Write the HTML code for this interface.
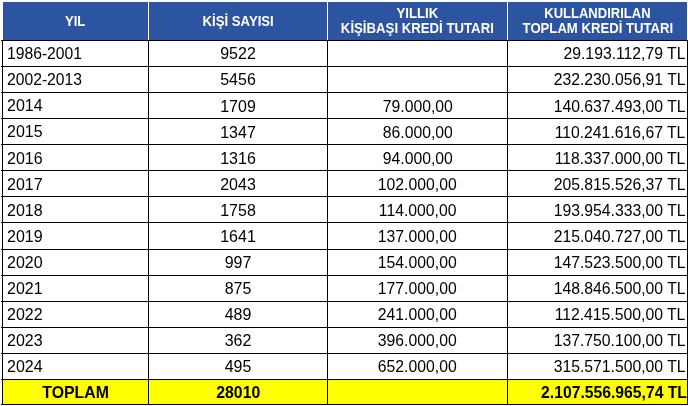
<!DOCTYPE html>
<html><head><meta charset="utf-8">
<style>
html,body{margin:0;padding:0;background:#fff;}
body{width:688px;height:406px;overflow:hidden;position:relative;font-family:"Liberation Sans",sans-serif;}
table{position:absolute;left:2px;top:2px;border-collapse:collapse;table-layout:fixed;width:685px;}
col.c1{width:146px}col.c2{width:179px}col.c3{width:180px}col.c4{width:180px}
th{background:#2c54a1;color:#fff;font-weight:bold;font-size:13px;line-height:14px;height:38px;padding:0;border-left:1px solid #fff;border-bottom:1px solid #000;text-align:center;vertical-align:middle;box-sizing:border-box;}
th:last-child{border-right:1px solid #fff;}
td{height:26px;box-sizing:border-box;border:1px solid #000;font-size:16px;padding:0;line-height:24px;color:#000;white-space:nowrap;vertical-align:top;}
td.y{text-align:left;padding-left:5px;}
td.c{text-align:center;}
td.r{text-align:right;padding-right:2px;}
tr.t td{background:#ffff00;font-weight:bold;height:25px;line-height:23px;}
tr.h27 td{height:27px;}
td span{display:inline-block;}
tr{--dy:1.3px;--dz:1.3px;}
tr.a{--dy:1.3px;--dz:1.95px;}
tr.b{--dy:1.9px;--dz:1.9px;}
tr.d{--dy:1.0px;--dz:1.0px;}
td.y span{transform:translate(-1px,var(--dy)) scale(1.0,1.03);transform-origin:0 50%;}
td.y span.n{transform:translate(-1px,var(--dy)) scale(0.98,1.03);}
td.c span{transform:translate(0px,var(--dz)) scale(1.0,1.03);}
td.r span{transform:translate(0.5px,var(--dz)) scale(0.984,1.03);transform-origin:100% 50%;}
td.c:nth-child(3) span{transform:translate(0.2px,var(--dz)) scale(0.984,1.03);}
tr.t td.c span{transform:translate(0px,1.3px) scale(0.99,1.03);}
tr.t td.r span{transform:translate(2.4px,1.3px) scale(0.982,1.03);}
th span{display:inline-block;transform:translateY(0.2px) scale(1.015,1.07);}
th span.s{transform:translateY(0.9px) scale(1.012,1.07);}
table{will-change:transform;}
.tk i{position:absolute;left:1px;width:1px;height:1px;background:#000;}
th b.k1{display:inline-block;transform:translateX(0px) scaleX(0.992);}
th span.j{transform:translate(0px,0.2px) scale(1.015,1.07);}
th span.k{transform:translate(0.35px,0.2px) scale(1.010,1.07);}
</style></head><body>
<table>
<colgroup><col class="c1"><col class="c2"><col class="c3"><col class="c4"></colgroup>
<tr><th><span class="s">YIL</span></th><th><span class="s">KİŞİ SAYISI</span></th><th><span class="j">YILLIK<br>KİŞİBAŞI KREDİ TUTARI</span></th><th><span class="k"><b class="k1">KULLANDIRILAN</b><br>TOPLAM KREDİ TUTARI</span></th></tr>
<tr><td class="y"><span class="n">1986-2001</span></td><td class="c"><span>9522</span></td><td class="c"></td><td class="r"><span>29.193.112,79 TL</span></td></tr>
<tr><td class="y"><span class="n">2002-2013</span></td><td class="c"><span>5456</span></td><td class="c"></td><td class="r"><span>232.230.056,91 TL</span></td></tr>
<tr class="a"><td class="y"><span>2014</span></td><td class="c"><span>1709</span></td><td class="c"><span>79.000,00</span></td><td class="r"><span>140.637.493,00 TL</span></td></tr>
<tr class="a"><td class="y"><span>2015</span></td><td class="c"><span>1347</span></td><td class="c"><span>86.000,00</span></td><td class="r"><span>110.241.616,67 TL</span></td></tr>
<tr class="b"><td class="y"><span>2016</span></td><td class="c"><span>1316</span></td><td class="c"><span>94.000,00</span></td><td class="r"><span>118.337.000,00 TL</span></td></tr>
<tr class="b"><td class="y"><span>2017</span></td><td class="c"><span>2043</span></td><td class="c"><span>102.000,00</span></td><td class="r"><span>205.815.526,37 TL</span></td></tr>
<tr class="b"><td class="y"><span>2018</span></td><td class="c"><span>1758</span></td><td class="c"><span>114.000,00</span></td><td class="r"><span>193.954.333,00 TL</span></td></tr>
<tr class="b h27"><td class="y"><span>2019</span></td><td class="c"><span>1641</span></td><td class="c"><span>137.000,00</span></td><td class="r"><span>215.040.727,00 TL</span></td></tr>
<tr class="d"><td class="y"><span>2020</span></td><td class="c"><span>997</span></td><td class="c"><span>154.000,00</span></td><td class="r"><span>147.523.500,00 TL</span></td></tr>
<tr class="d"><td class="y"><span>2021</span></td><td class="c"><span>875</span></td><td class="c"><span>177.000,00</span></td><td class="r"><span>148.846.500,00 TL</span></td></tr>
<tr class="d"><td class="y"><span>2022</span></td><td class="c"><span>489</span></td><td class="c"><span>241.000,00</span></td><td class="r"><span>112.415.500,00 TL</span></td></tr>
<tr class="d"><td class="y"><span>2023</span></td><td class="c"><span>362</span></td><td class="c"><span>396.000,00</span></td><td class="r"><span>137.750.100,00 TL</span></td></tr>
<tr class="d"><td class="y"><span>2024</span></td><td class="c"><span>495</span></td><td class="c"><span>652.000,00</span></td><td class="r"><span>315.571.500,00 TL</span></td></tr>
<tr class="t"><td class="c"><span>TOPLAM</span></td><td class="c"><span>28010</span></td><td class="c"></td><td class="r"><span>2.107.556.965,74 TL</span></td></tr>
</table>
<div class="tk"><i style="top:40px"></i><i style="top:66px"></i><i style="top:92px"></i><i style="top:118px"></i><i style="top:144px"></i><i style="top:170px"></i><i style="top:196px"></i><i style="top:222px"></i><i style="top:249px"></i><i style="top:275px"></i><i style="top:301px"></i><i style="top:327px"></i><i style="top:353px"></i><i style="top:379px"></i><i style="top:404px"></i></div>
</body></html>
